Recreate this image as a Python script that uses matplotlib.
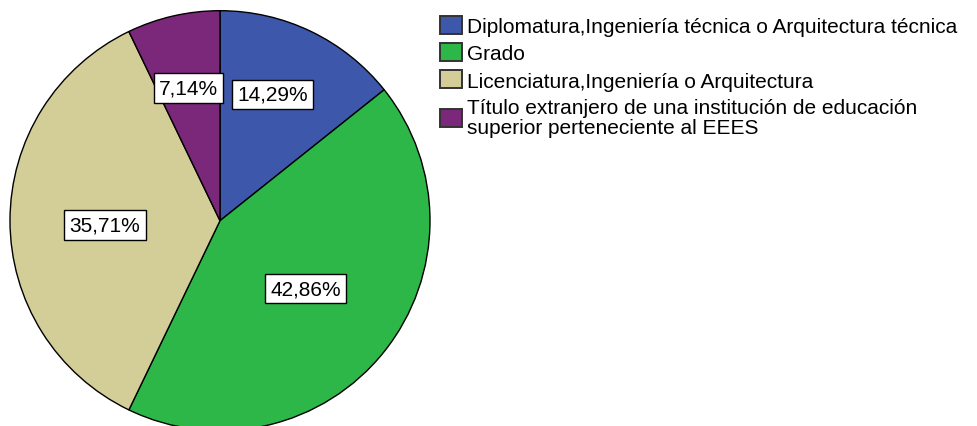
import matplotlib
matplotlib.use('Agg')
import matplotlib.pyplot as plt

plt.rcParams.update({
    'font.family': ['Liberation Sans', 'DejaVu Sans'],
    'font.size': 15,
})

# datos
categorias = [
    "Diplomatura,Ingeniería técnica o Arquitectura técnica",
    "Grado",
    "Licenciatura,Ingeniería o Arquitectura",
    "Título extranjero de una institución de educación\nsuperior perteneciente al EEES",
]
frecuencias = [2, 6, 5, 1]
etiquetas = ["14,29%", "42,86%", "35,71%", "7,14%"]

colores = ['#3D57AB', '#2DB748', '#D3CE97', '#7B287B']
# centro de cada caja de etiqueta (unidades del pastel, radio = 1)
pos_etq = [(0.25, 0.601), (0.407, -0.323), (-0.548, -0.02), (-0.15, 0.632)]

fig = plt.figure(figsize=(9.78, 4.27), dpi=100)
ax = fig.add_axes([10/978, -4.7/427, 420/978, 420/427])

wedges, _ = ax.pie(frecuencias, colors=colores, startangle=90, counterclock=False,
                   wedgeprops=dict(edgecolor='black', linewidth=1.0))
ax.set_xlim(-1, 1); ax.set_ylim(-1, 1)

# etiquetas de porcentaje en cajas blancas
for txt, (x, y) in zip(etiquetas, pos_etq):
    ax.text(x, y, txt, ha='center', va='center', fontsize=15,
            bbox=dict(boxstyle='square,pad=0.25', fc='white', ec='black', lw=1.0))

leg = fig.legend(wedges, categorias, loc='upper left',
                 bbox_to_anchor=(440/978, 1 - 17/427), frameon=False,
                 handlelength=1.05, handleheight=0.95, handletextpad=0.24,
                 labelspacing=0.34, borderaxespad=0, borderpad=0, fontsize=15)
for t in leg.get_texts():
    t.set_linespacing(1.1)
for h in leg.legend_handles:
    h.set_linewidth(1.4)
    h.set_edgecolor('#333333')

fig.savefig('out.png', dpi=100)
